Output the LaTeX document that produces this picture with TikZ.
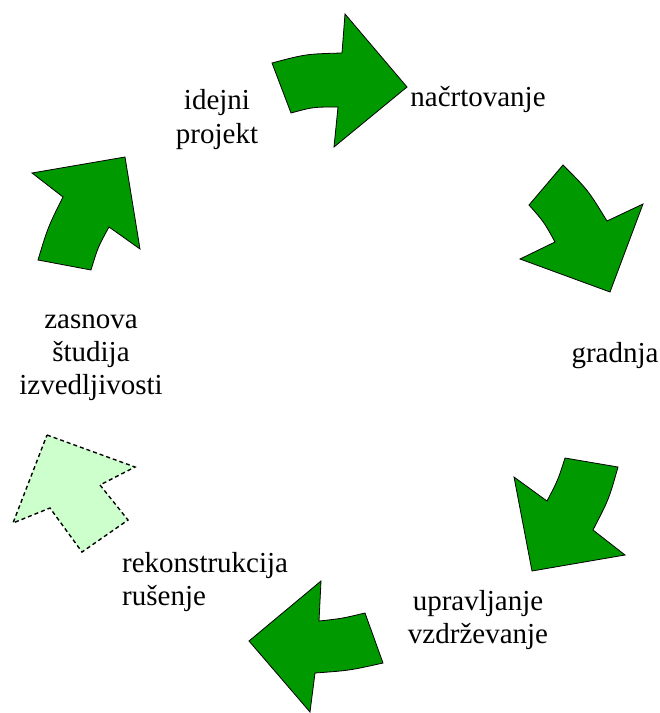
\documentclass[tikz,border=0pt]{standalone}
\usepackage{fontspec}
\setmainfont{Liberation Serif}
\definecolor{arrowgreen}{RGB}{0,153,0}
\definecolor{palegreen}{RGB}{204,255,204}
\tikzset{
  bigarrow/.style={fill=arrowgreen, draw=black, line width=0.8bp, line join=miter},
  ghostarrow/.style={fill=palegreen, draw=black, line width=1.4bp, dashed, dash pattern=on 4bp off 3bp},
  lbl/.style={inner sep=0pt, anchor=base, align=center, font=\fontsize{29bp}{33bp}\selectfont},
  lblleft/.style={lbl, align=left, anchor=base west}
}
\begin{document}
\begin{tikzpicture}[x=1bp,y=-1bp]
\useasboundingbox (0,0) rectangle (660,713);
% arrow 1: top, pointing right
\draw[bigarrow] (272,63) .. controls (306,54) .. (342,53) -- (345,14) -- (407,87) -- (334,147) -- (338,107)
  .. controls (313,107) .. (291,113) -- cycle;
% arrow 2: upper right, pointing down-right
\draw[bigarrow] (563,165) .. controls (588,190) .. (607,221) -- (643,204) -- (610,292) -- (520,259) -- (555,242)
  .. controls (544,222) .. (529,205) -- cycle;
% arrow 3: lower right, pointing down-left
\draw[bigarrow] (565,458) -- (618,467) .. controls (609,499) .. (593,530) -- (625,555) -- (532,571) -- (514,477) -- (547,501)
  .. controls (558,480) .. (565,458) -- cycle;
% arrow 4: bottom, pointing left
\draw[bigarrow] (249,641) -- (321,581) -- (319,621) .. controls (342,618.5) .. (365,613) -- (383,663)
  .. controls (349.5,670.5) .. (315,673) -- (310,712) -- cycle;
% arrow 5: lower left, dashed, pointing up-left
\draw[ghostarrow] (47,435) -- (135,467) -- (100,485) -- (128,520) -- (82,552) -- (50,508) -- (13,523) -- cycle;
% arrow 6: upper left, pointing up-right
\draw[bigarrow] (32,173) -- (125,157) -- (140,249) -- (109,227) .. controls (98,247) .. (91,270) -- (38,260)
  .. controls (48,227) .. (63,197) -- cycle;
% labels (base anchor = baseline of last line)
\node[lbl] (idejni) at (217,143) {idejni\\projekt};
\node[lbl] (nacrt) at (478,107) {načrtovanje};
\node[lbl] (gradnja) at (615,362) {gradnja};
\node[lbl] (uprav) at (478,643) {upravljanje\\vzdrževanje};
\node[lblleft] (rekon) at (122,605) {rekonstrukcija\\rušenje};
\node[lbl] (zasnova) at (91,394) {zasnova\\študija\\izvedljivosti};
\end{tikzpicture}
\end{document}
